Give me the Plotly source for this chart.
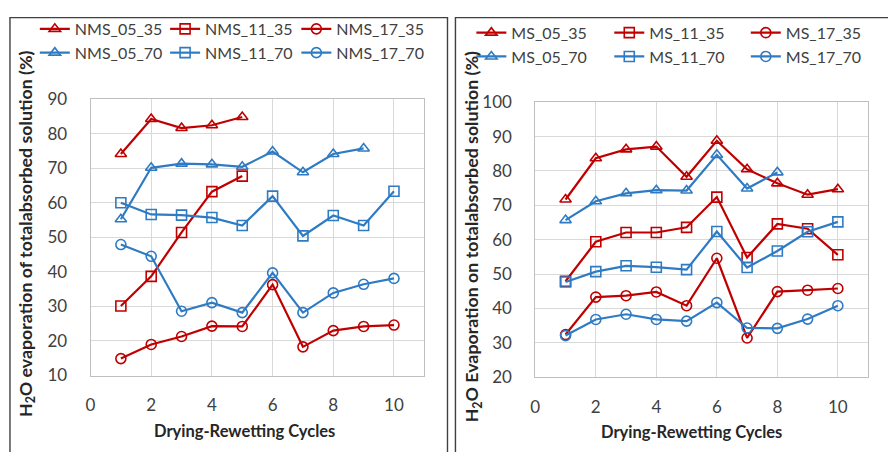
import plotly.graph_objects as go

cycles = list(range(1, 11))

# Left panel (NMS)
nms_05_35 = [74.1, 84.2, 81.6, 82.4, 84.8]
nms_11_35 = [30.1, 38.7, 51.4, 63.2, 67.7]
nms_17_35 = [14.9, 19.0, 21.3, 24.3, 24.2, 36.3, 18.3, 23.0, 24.2, 24.6]
nms_05_70 = [55.2, 70.1, 71.3, 71.1, 70.4, 74.8, 68.8, 74.1, 75.7]
nms_11_70 = [60.0, 56.6, 56.4, 55.7, 53.4, 61.9, 50.4, 56.3, 53.4, 63.3]
nms_17_70 = [47.9, 44.5, 28.6, 31.1, 28.2, 39.7, 28.2, 33.9, 36.4, 38.1]

# Right panel (MS)
ms_05_35 = [71.7, 83.7, 86.3, 87.1, 78.3, 88.8, 80.5, 76.4, 73.1, 74.7]
ms_11_35 = [47.9, 59.4, 62.1, 62.1, 63.6, 72.4, 54.8, 64.6, 63.2, 55.6]
ms_17_35 = [32.4, 43.3, 43.7, 44.8, 40.8, 54.6, 31.4, 44.9, 45.3, 45.8]
ms_05_70 = [65.7, 71.2, 73.5, 74.4, 74.3, 84.7, 74.9, 79.6]
ms_11_70 = [47.7, 50.7, 52.4, 52.0, 51.3, 62.4, 51.9, 56.7, 62.3, 65.2]
ms_17_70 = [32.1, 36.8, 38.3, 36.8, 36.3, 41.7, 34.3, 34.2, 36.9, 40.8]

x_ticks = [0, 2, 4, 6, 8, 10]
left_y_title = "<b>H<sub>2</sub>O evaporation of totalabsorbed solution (%)</b>"
right_y_title = "<b>H<sub>2</sub>O Evaporation on totalabsorbed solution (%)</b>"
x_title = "<b>Drying-Rewetting Cycles</b>"

RED = "#C00000"
BLUE = "#2E7BC4"
FONT = "Lato"
W, H = 888, 452

def px(v):
    return v / W

def py(v):
    return 1 - v / H

fig = go.Figure()

series = [
    # name, values, color, symbol, xaxis, yaxis, legend
    ("NMS_05_35", nms_05_35, RED, "triangle-up-open", "x", "y", "legend"),
    ("NMS_05_70", nms_05_70, BLUE, "triangle-up-open", "x", "y", "legend"),
    ("NMS_11_35", nms_11_35, RED, "square-open", "x", "y", "legend2"),
    ("NMS_11_70", nms_11_70, BLUE, "square-open", "x", "y", "legend2"),
    ("NMS_17_35", nms_17_35, RED, "circle-open", "x", "y", "legend3"),
    ("NMS_17_70", nms_17_70, BLUE, "circle-open", "x", "y", "legend3"),
    ("MS_05_35", ms_05_35, RED, "triangle-up-open", "x2", "y2", "legend4"),
    ("MS_05_70", ms_05_70, BLUE, "triangle-up-open", "x2", "y2", "legend4"),
    ("MS_11_35", ms_11_35, RED, "square-open", "x2", "y2", "legend5"),
    ("MS_11_70", ms_11_70, BLUE, "square-open", "x2", "y2", "legend5"),
    ("MS_17_35", ms_17_35, RED, "circle-open", "x2", "y2", "legend6"),
    ("MS_17_70", ms_17_70, BLUE, "circle-open", "x2", "y2", "legend6"),
]

for name, vals, color, sym, xa, ya, leg in series:
    fig.add_trace(go.Scatter(
        x=cycles[:len(vals)], y=vals, name=name, mode="lines+markers",
        line=dict(color=color, width=2.2),
        marker=dict(symbol=sym, size=10, color=color, line=dict(width=1.6, color=color)),
        xaxis=xa, yaxis=ya, legend=leg,
    ))

axis_common = dict(
    showgrid=True, gridcolor="#D9D9D9", gridwidth=1,
    showline=True, linecolor="#BFBFBF", linewidth=1, mirror=True,
    zeroline=False, ticks="",
    tickfont=dict(family=FONT, size=17, color="#404040"),
)

fig.update_layout(
    width=W, height=H,
    margin=dict(l=0, r=0, t=0, b=0),
    paper_bgcolor="white", plot_bgcolor="white",
    font=dict(family=FONT, color="#404040"),
    xaxis=dict(domain=[px(86), px(421.7)], range=[0, 11], tickvals=x_ticks,
               anchor="y", ticklabelstandoff=14, **axis_common),
    yaxis=dict(domain=[py(382.3), py(92.3)], range=[10, 90], dtick=10,
               anchor="x", ticklabelstandoff=19, **axis_common),
    xaxis2=dict(domain=[px(533.3), px(868)], range=[0, 11], tickvals=x_ticks,
                anchor="y2", ticklabelstandoff=14, **axis_common),
    yaxis2=dict(domain=[py(384), py(95.7)], range=[20, 100], dtick=10,
                anchor="x2", ticklabelstandoff=19, **axis_common),
)

leg_common = dict(orientation="v", xanchor="left", yanchor="top",
                  bgcolor="rgba(0,0,0,0)", borderwidth=0, tracegroupgap=0,
                  font=dict(family=FONT, size=16, color="#404040"))
legend_pos = {
    "legend": (30, 1.0), "legend2": (161, 1.0), "legend3": (293, 1.0),
    "legend4": (469, 5.0), "legend5": (607.7, 5.0), "legend6": (745, 5.0),
}
for key, (lx, ly) in legend_pos.items():
    fig.update_layout({key: dict(x=px(lx), y=py(ly), **leg_common)})

# panel borders
fig.add_shape(type="rect", xref="paper", yref="paper",
              x0=px(5), y0=py(7), x1=px(445), y1=-0.1,
              line=dict(color="#404040", width=1.4), fillcolor="rgba(0,0,0,0)", layer="above")
fig.add_shape(type="rect", xref="paper", yref="paper",
              x0=px(453), y0=py(7), x1=1.1, y1=-0.1,
              line=dict(color="#404040", width=1.4), fillcolor="rgba(0,0,0,0)", layer="above")

x_title_font = dict(family=FONT, size=16.5, color="#262626")
y_title_font = dict(family=FONT, size=17.8, color="#262626")
fig.add_annotation(text=x_title, xref="paper", yref="paper", x=px(241), y=py(440),
                   xanchor="center", yanchor="middle", showarrow=False, font=x_title_font)
fig.add_annotation(text=x_title, xref="paper", yref="paper", x=px(690.7), y=py(441),
                   xanchor="center", yanchor="middle", showarrow=False, font=x_title_font)
fig.add_annotation(text=left_y_title, xref="paper", yref="paper", x=px(21), y=py(233),
                   xanchor="center", yanchor="middle", textangle=-90, showarrow=False, font=y_title_font)
fig.add_annotation(text=right_y_title, xref="paper", yref="paper", x=px(471), y=py(237),
                   xanchor="center", yanchor="middle", textangle=-90, showarrow=False, font=y_title_font)

fig.write_html("out.html")
